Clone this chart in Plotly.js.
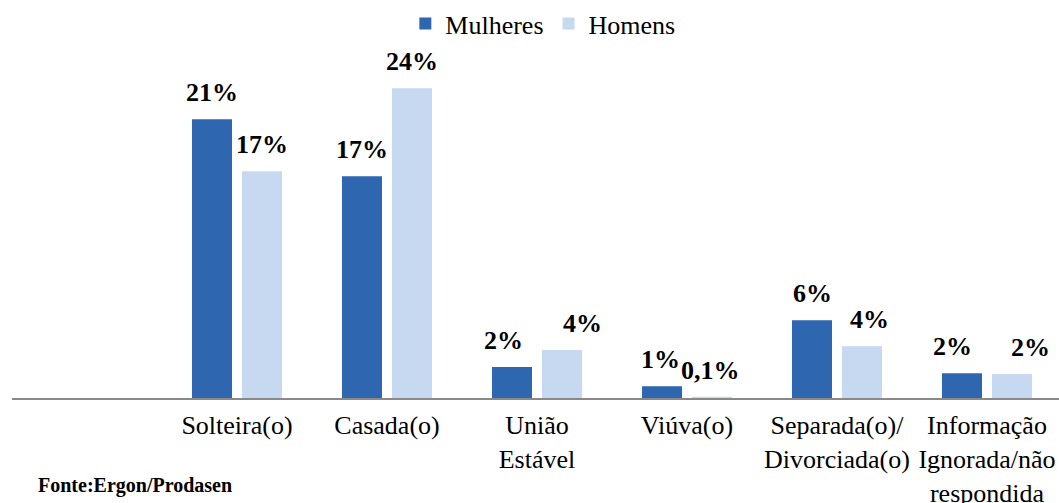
<!DOCTYPE html>
<html>
<head>
<meta charset="utf-8">
<script src="https://cdn.plot.ly/plotly-3.0.1.min.js"></script>
<style>html,body{margin:0;padding:0;background:#fff;}#chart{width:1059px;height:503px;}</style>
</head>
<body>
<div id="chart"></div>
<script>
const categories = ['Solteira(o)', 'Casada(o)', 'União<br>Estável', 'Viúva(o)', 'Separada(o)/<br>Divorciada(o)', 'Informação<br>Ignorada/não<br>respondida'];
const mulheres = [21.5, 17.1, 2.4, 0.9, 6.0, 1.9];
const homens = [17.5, 23.9, 3.7, 0.1, 4.0, 1.85];
const mulheresLabels = ['21%', '17%', '2%', '1%', '6%', '2%'];
const homensLabels = ['17%', '24%', '4%', '0,1%', '4%', '2%'];

// label nudges (styling only)
const nudgeM = [0, 0, -9, -2, 0, -10];
const nudgeH = [0, 0, 20, -2, 7, 18];

const serif = '"Liberation Serif", "Times New Roman", serif';

const traces = [
  {type: 'bar', name: 'Mulheres', x: categories, y: mulheres, marker: {color: '#2E67B0'}, hoverinfo: 'skip'},
  {type: 'bar', name: 'Homens', x: categories, y: homens, marker: {color: '#C6D9F0'}, hoverinfo: 'skip'}
];

const annotations = [];
categories.forEach((c, i) => {
  annotations.push({x: c, y: mulheres[i], xref: 'x', yref: 'y', text: '<b>' + mulheresLabels[i] + '</b>', showarrow: false,
    yanchor: 'bottom', xanchor: 'center', xshift: -25 + nudgeM[i], yshift: 10,
    font: {family: serif, size: 26, color: '#000'}});
  annotations.push({x: c, y: homens[i], xref: 'x', yref: 'y', text: '<b>' + homensLabels[i] + '</b>', showarrow: false,
    yanchor: 'bottom', xanchor: 'center', xshift: 25 + nudgeH[i], yshift: 10,
    font: {family: serif, size: 26, color: '#000'}});
});
annotations.push({xref: 'paper', yref: 'paper', x: 0.0229, y: -0.30, xanchor: 'left', yanchor: 'bottom',
  text: '<b>Fonte:Ergon/Prodasen</b>', showarrow: false, font: {family: serif, size: 20, color: '#000'}});

const layout = {
  width: 1059, height: 503,
  margin: {l: 12, r: 0, t: 60, b: 105, pad: 0},
  paper_bgcolor: '#fff', plot_bgcolor: '#fff',
  font: {family: serif},
  barmode: 'group', bargap: 0.333, bargroupgap: 0.2,
  showlegend: true,
  legend: {orientation: 'h', x: 0.507, xanchor: 'center', y: 1.112, yanchor: 'middle',
    font: {family: serif, size: 26, color: '#000'}, traceorder: 'normal'},
  xaxis: {type: 'category', range: [-1.5, 5.48], showline: true, linecolor: '#898989', linewidth: 2,
    showgrid: false, zeroline: false, ticks: '', tickfont: {family: serif, size: 26, color: '#000'},
    ticklabelstandoff: 3, fixedrange: true},
  yaxis: {range: [0, 26], visible: false, showgrid: false, zeroline: false, fixedrange: true},
  annotations: annotations
};

Plotly.newPlot('chart', traces, layout, {displayModeBar: false, staticPlot: true});
</script>
</body>
</html>
